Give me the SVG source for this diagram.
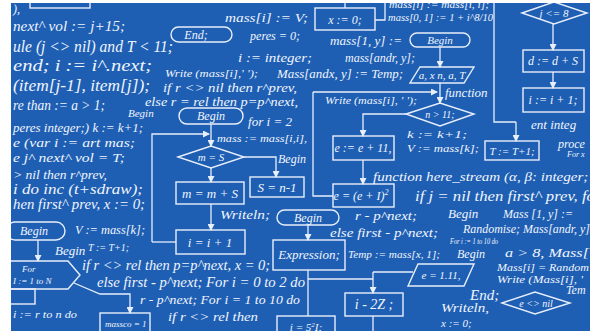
<svg xmlns="http://www.w3.org/2000/svg" width="599" height="336" viewBox="0 0 599 336">
<style>
.t{font-family:"Liberation Serif","DejaVu Serif",serif;font-style:italic;fill:#f1f5fd;}
.c{text-anchor:middle;}
.s{fill:none;stroke:#e8eefa;stroke-width:1.4;}
.ln{fill:none;stroke:#e8eefa;stroke-width:1.3;}
.ar{fill:none;stroke:#e8eefa;stroke-width:1.3;marker-end:url(#ah);}
</style>
<defs>
<marker id="ah" markerWidth="7" markerHeight="7" refX="6" refY="3.5" orient="auto" markerUnits="userSpaceOnUse">
<path d="M0,0 L7,3.5 L0,7 Z" fill="#e8eefa"/>
</marker>
<clipPath id="cl"><rect x="11" y="3" width="579" height="328"/></clipPath>
</defs>
<rect width="599" height="336" fill="#ffffff"/>
<rect x="11" y="3" width="579" height="328" fill="#1e5fb4"/>
<g clip-path="url(#cl)">
<g id="connectors">
<polyline class="ln" points="345,0 345,8"/>
<polyline class="ln" points="375,20 385,20 385,0"/>
<polyline class="ar" points="440,47 440,67"/>
<polyline class="ar" points="440,83 440,103"/>
<polyline class="ar" points="313,92 437,92"/>
<polyline class="ln" points="313,92 313,196 333,196"/>
<polyline class="ar" points="406,114 363,114 363,136"/>
<polyline class="ar" points="363,160 363,184"/>
<polyline class="ln" points="494,0 494,122 516,122"/>
<polyline class="ar" points="516,122 516,141"/>
<polyline class="ar" points="553,24 553,50"/>
<polyline class="ar" points="553,72 553,88"/>
<polyline class="ar" points="211,124 211,146"/>
<polyline class="ar" points="152,242 152,134 209,134"/>
<polyline class="ln" points="176,242 152,242"/>
<polyline class="ar" points="244,157 276,157 276,177"/>
<polyline class="ar" points="211,168 211,182"/>
<polyline class="ar" points="211,204 211,230"/>
<polyline class="ar" points="308,225 308,240"/>
<polyline class="ln" points="308,270 308,316"/>
<polyline class="ln" points="308,279 373,279"/>
<polyline class="ar" points="373,272 373,293"/>
<polyline class="ln" points="373,272 413,272"/>
<polyline class="ln" points="373,316 373,336"/>
<polyline class="ar" points="38,240 38,261"/>
<polyline class="ar" points="74,283 100,294 130,294 130,313"/>
</g>
<g id="n-topleft"><rect class="s" x="30" y="-6" width="60" height="14"/></g>
<g id="n-end"><rect class="s" x="171" y="27" width="61" height="15" rx="7.5"/><text class="t c" x="196" y="39" font-size="12">End;</text></g>
<g id="n-x0"><rect class="s" x="315" y="8" width="60" height="22"/><text class="t c" x="345" y="24" font-size="12">x := 0;</text></g>
<g id="n-begin1"><rect class="s" x="410" y="33" width="60" height="14" rx="7"/><text class="t c" x="440" y="44" font-size="11">Begin</text></g>
<g id="n-par1"><polygon class="s" points="420,67 474,67 464,83 410,83"/><text class="t c" x="442" y="79" font-size="11">a, x n, a, T</text></g>
<g id="n-n11"><polygon class="s" points="406,114 440,103 474,114 440,126"/><text class="t c" x="440" y="118" font-size="10">n &gt; 11;</text></g>
<g id="n-e11"><rect class="s" x="333" y="136" width="61" height="24"/><text class="t c" x="363" y="152" font-size="12">e := e + 11,</text></g>
<g id="n-e2"><rect class="s" x="333" y="184" width="61" height="23"/><text class="t c" x="361" y="200" font-size="12">e = (e + I)<tspan dy="-5" font-size="8">2</tspan></text></g>
<g id="n-T"><rect class="s" x="485" y="141" width="54" height="19"/><text class="t c" x="512" y="155" font-size="11">T := T+1;</text></g>
<g id="n-j8"><polygon class="s" points="522,13 554,2 587,13 554,24"/><text class="t c" x="554" y="17" font-size="11">j &lt;= 8</text></g>
<g id="n-dd"><rect class="s" x="523" y="50" width="61" height="22"/><text class="t c" x="553" y="65" font-size="12">d := d + S</text></g>
<g id="n-ii"><rect class="s" x="523" y="88" width="61" height="24"/><text class="t c" x="553" y="104" font-size="12">i := i + 1;</text></g>
<g id="n-begin2"><rect class="s" x="179" y="108" width="64" height="16" rx="8"/><text class="t c" x="211" y="120" font-size="12">Begin</text></g>
<g id="n-mS"><polygon class="s" points="178,157 211,146 244,157 211,168"/><text class="t c" x="211" y="161" font-size="11">m = S</text></g>
<g id="n-Sn"><rect class="s" x="250" y="177" width="54" height="20"/><text class="t c" x="277" y="192" font-size="13">S = n-1</text></g>
<g id="n-mm"><rect class="s" x="176" y="182" width="68" height="22"/><text class="t c" x="210" y="198" font-size="13">m = m + S</text></g>
<g id="n-i1"><rect class="s" x="176" y="230" width="69" height="24"/><text class="t c" x="210" y="247" font-size="13">i = i + 1</text></g>
<g id="n-begin3"><rect class="s" x="277" y="210" width="62" height="15" rx="7.5"/><text class="t c" x="308" y="222" font-size="12">Begin</text></g>
<g id="n-expr"><rect class="s" x="273" y="240" width="72" height="30"/><text class="t c" x="309" y="259" font-size="13">Expression;</text></g>
<g id="n-i5"><rect class="s" x="277" y="316" width="58" height="22"/><text class="t c" x="306" y="331" font-size="11">i = 5<tspan dy="-4" font-size="7">2</tspan><tspan dy="4">I;</tspan></text></g>
<g id="n-i2z"><rect class="s" x="345" y="293" width="58" height="23"/><text class="t c" x="374" y="309" font-size="14">i - 2Z ;</text></g>
<g id="n-par2"><polygon class="s" points="418,264 474,264 464,286 408,286"/><text class="t c" x="441" y="279" font-size="11">e = 1.11,</text></g>
<g id="n-enil"><polygon class="s" points="502,303 535,292 570,303 535,314"/><text class="t c" x="536" y="307" font-size="10">e &lt;&gt; nil</text></g>
<g id="n-begin4"><rect class="s" x="6" y="222" width="59" height="18" rx="9"/><text class="t c" x="34" y="235" font-size="12">Begin</text></g>
<g id="n-for"><polygon class="s" points="6,261 68,261 80,275 68,289 6,289"/><text class="t" x="22" y="272" font-size="9">For</text><text class="t" x="13" y="284" font-size="9">I := 1 to N</text></g>
<g id="n-small"><rect class="s" x="6" y="289" width="29" height="15"/></g>
<g id="n-massco"><rect class="s" x="100" y="313" width="50" height="26"/><text class="t" x="105" y="327" font-size="9">massco = 1</text></g>
<g id="texts">
<text class="t" x="13" y="13" font-size="12">),</text>
<text class="t" x="13" y="31" font-size="15" textLength="112" lengthAdjust="spacingAndGlyphs">next^ vol := j+15;</text>
<text class="t" x="13" y="52" font-size="17" textLength="160" lengthAdjust="spacingAndGlyphs">ule (j &lt;&gt; nil) and T &lt; 11;</text>
<text class="t" x="13" y="71" font-size="16" textLength="139" lengthAdjust="spacingAndGlyphs">end;   i := i^.next;</text>
<text class="t" x="13" y="91" font-size="16" textLength="137" lengthAdjust="spacingAndGlyphs">(item[j-1], item[j]);</text>
<text class="t" x="13" y="110" font-size="15" textLength="92" lengthAdjust="spacingAndGlyphs">re than := a &gt; 1;</text>
<text class="t" x="13" y="132" font-size="13" textLength="130" lengthAdjust="spacingAndGlyphs">peres integer;) k := k+1;</text>
<text class="t" x="13" y="147" font-size="13" textLength="122" lengthAdjust="spacingAndGlyphs">e (var i := art mas;</text>
<text class="t" x="13" y="162" font-size="13" textLength="112" lengthAdjust="spacingAndGlyphs">e j^ next^ vol = T;</text>
<text class="t" x="13" y="179" font-size="13" textLength="94" lengthAdjust="spacingAndGlyphs">&gt; nil then r^prev,</text>
<text class="t" x="13" y="194" font-size="14" textLength="130" lengthAdjust="spacingAndGlyphs">i do inc (t+sdraw);</text>
<text class="t" x="13" y="209" font-size="14" textLength="132" lengthAdjust="spacingAndGlyphs">hen first^ prev, x := 0;</text>
<text class="t" x="75" y="234" font-size="12" textLength="70" lengthAdjust="spacingAndGlyphs">V := mass[k];</text>
<text class="t" x="55" y="255" font-size="13">Begin</text>
<text class="t" x="88" y="251" font-size="10">T := T+1;</text>
<text class="t" x="82" y="270" font-size="14" textLength="188" lengthAdjust="spacingAndGlyphs">if r &lt;&gt; rel then p=p^next, x = 0;</text>
<text class="t" x="97" y="287" font-size="14" textLength="208" lengthAdjust="spacingAndGlyphs">else first - p^next; For i = 0 to 2 do</text>
<text class="t" x="140" y="304" font-size="13" textLength="160" lengthAdjust="spacingAndGlyphs">r - p^next; For i = 1 to 10 do</text>
<text class="t" x="168" y="321" font-size="13" textLength="90" lengthAdjust="spacingAndGlyphs">if r &lt;&gt; rel then</text>
<text class="t" x="13" y="318" font-size="11" textLength="64" lengthAdjust="spacingAndGlyphs">i := r to n do</text>
<text class="t" x="225" y="22" font-size="13" textLength="83" lengthAdjust="spacingAndGlyphs">mass[i] := V;</text>
<text class="t" x="250" y="40" font-size="13" textLength="50" lengthAdjust="spacingAndGlyphs">peres = 0;</text>
<text class="t" x="238" y="62" font-size="13" textLength="74" lengthAdjust="spacingAndGlyphs">i := integer;</text>
<text class="t" x="165" y="77" font-size="10" textLength="93" lengthAdjust="spacingAndGlyphs">Write (mass[i],' ');</text>
<text class="t" x="277" y="78" font-size="12" textLength="126" lengthAdjust="spacingAndGlyphs">Mass[andx, y] := Temp;</text>
<text class="t" x="163" y="92" font-size="13" textLength="134" lengthAdjust="spacingAndGlyphs">if r &lt;&gt; nil then r^prev,</text>
<text class="t" x="145" y="106" font-size="13" textLength="153" lengthAdjust="spacingAndGlyphs">else r = rel then p=p^next,</text>
<text class="t" x="128" y="117" font-size="11">Begin</text>
<text class="t" x="248" y="126" font-size="13" textLength="44" lengthAdjust="spacingAndGlyphs">for i = 2</text>
<text class="t" x="217" y="142" font-size="11" textLength="90" lengthAdjust="spacingAndGlyphs">mass := mass[i,i],</text>
<text class="t" x="278" y="163" font-size="12">Begin</text>
<text class="t" x="220" y="219" font-size="12" textLength="50" lengthAdjust="spacingAndGlyphs">Writeln;</text>
<text class="t" x="389" y="8" font-size="10" textLength="100" lengthAdjust="spacingAndGlyphs">mass[i] := mass[i, i];</text>
<text class="t" x="388" y="21" font-size="10" textLength="105" lengthAdjust="spacingAndGlyphs">mass[0, 1] := 1 + i^8/10</text>
<text class="t" x="330" y="45" font-size="12" textLength="72" lengthAdjust="spacingAndGlyphs">mass[1, y] :=</text>
<text class="t" x="345" y="62" font-size="12" textLength="70" lengthAdjust="spacingAndGlyphs">mass[andr, y];</text>
<text class="t" x="325" y="104" font-size="10" textLength="92" lengthAdjust="spacingAndGlyphs">Write (mass[i], ' ');</text>
<text class="t" x="445" y="97" font-size="13">function</text>
<text class="t" x="407" y="138" font-size="11" textLength="60" lengthAdjust="spacingAndGlyphs">k := k+1;</text>
<text class="t" x="407" y="152" font-size="11" textLength="72" lengthAdjust="spacingAndGlyphs">V := mass[k];</text>
<text class="t" x="531" y="129" font-size="13">ent integ</text>
<text class="t" x="558" y="148" font-size="12">proce</text>
<text class="t" x="567" y="157" font-size="8">For x</text>
<text class="t" x="373" y="181" font-size="13" textLength="225" lengthAdjust="spacingAndGlyphs">function here_stream (α, β: integer; s</text>
<text class="t" x="415" y="201" font-size="15" textLength="180" lengthAdjust="spacingAndGlyphs">if j = nil then first^ prev, fo</text>
<text class="t" x="355" y="220" font-size="13" textLength="62" lengthAdjust="spacingAndGlyphs">r - p^next;</text>
<text class="t" x="448" y="218" font-size="13">Begin</text>
<text class="t" x="503" y="218" font-size="12" textLength="70" lengthAdjust="spacingAndGlyphs">Mass [1, y] :=</text>
<text class="t" x="330" y="237" font-size="13" textLength="108" lengthAdjust="spacingAndGlyphs">else first - p^next;</text>
<text class="t" x="463" y="233" font-size="12" textLength="127" lengthAdjust="spacingAndGlyphs">Randomise; Mass[andr, y]</text>
<text class="t" x="450" y="244" font-size="8" textLength="48" lengthAdjust="spacingAndGlyphs">For i := 1 to 10 do</text>
<text class="t" x="348" y="258" font-size="11" textLength="92" lengthAdjust="spacingAndGlyphs">Temp := mass[x, 1];</text>
<text class="t" x="457" y="258" font-size="12">Begin</text>
<text class="t" x="505" y="257" font-size="12" textLength="84" lengthAdjust="spacingAndGlyphs">a &gt; 8, Mass[</text>
<text class="t" x="497" y="271" font-size="11" textLength="92" lengthAdjust="spacingAndGlyphs">Mass[i] = Random</text>
<text class="t" x="497" y="283" font-size="10" textLength="86" lengthAdjust="spacingAndGlyphs">Write (Mass[i], '</text>
<text class="t" x="566" y="294" font-size="12">Tem</text>
<text class="t" x="470" y="300" font-size="15">End;</text>
<text class="t" x="441" y="312" font-size="13" textLength="48" lengthAdjust="spacingAndGlyphs">Writeln,</text>
<text class="t" x="441" y="327" font-size="11">x := 0;</text>
</g>
</g>
</svg>
